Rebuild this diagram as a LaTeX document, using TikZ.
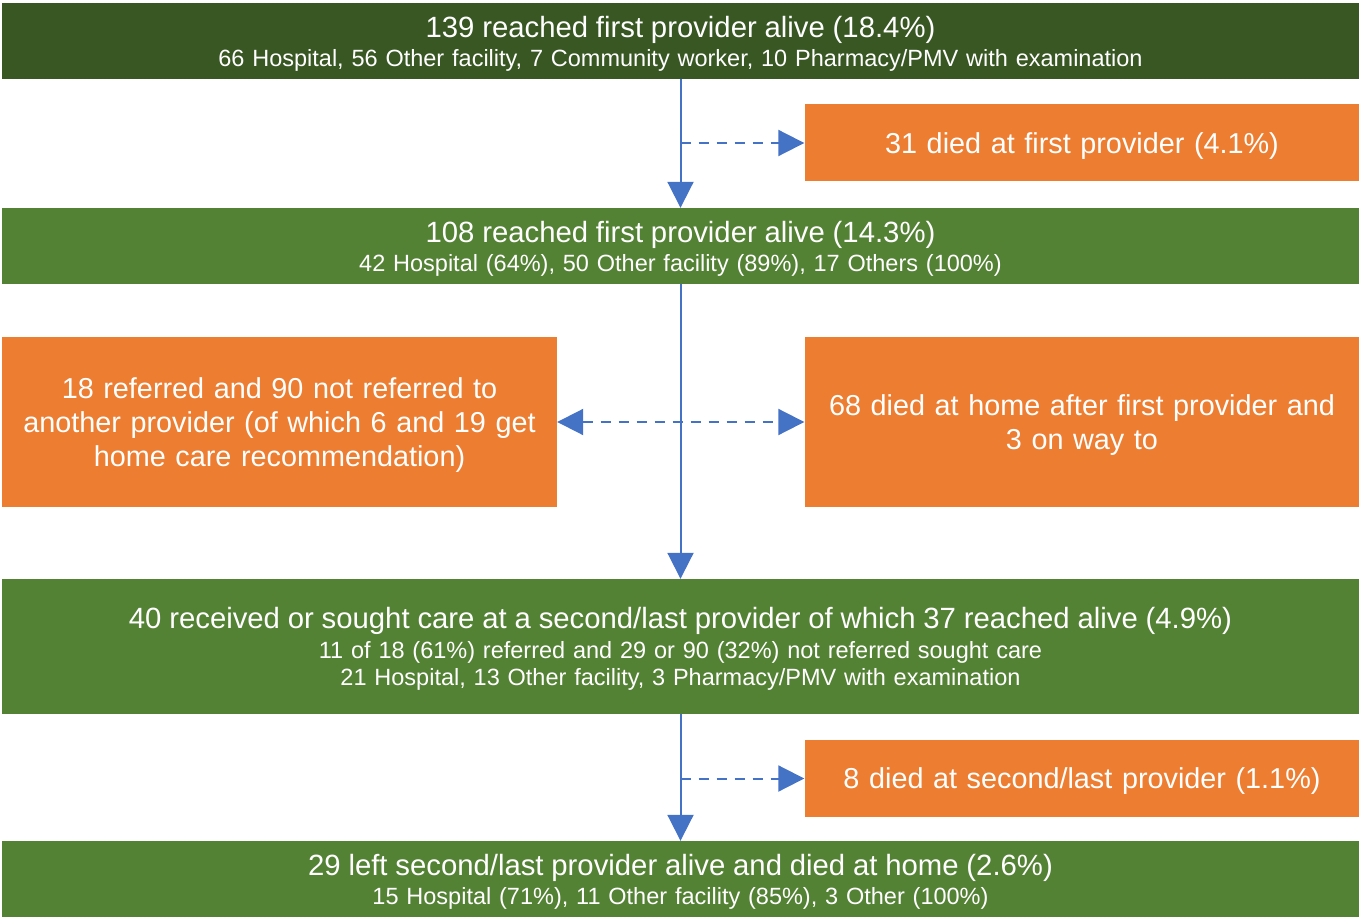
\documentclass[tikz,border=0pt]{standalone}
\usepackage{fontspec}
\setmainfont{Liberation Sans}
\usetikzlibrary{arrows.meta}
\definecolor{dkgreen}{HTML}{385723}
\definecolor{mdgreen}{HTML}{548235}
\definecolor{orng}{HTML}{ED7D31}
\definecolor{arrblue}{HTML}{4472C4}
\tikzset{
  gbox/.style={fill=mdgreen, text=white, inner sep=0pt, minimum width=1357pt,
    text width=1350pt, align=center, font=\fontsize{23.5}{27}\selectfont},
  obox/.style={fill=orng, text=white, inner sep=0pt, minimum width=555pt,
    text width=553pt, align=center, font=\fontsize{28.8}{34}\selectfont},
  flow/.style={draw=arrblue, line width=2pt, -{Triangle[width=26pt,length=26pt]}},
  side/.style={draw=arrblue, line width=2pt, dash pattern=on 10pt off 8pt,
    -{Triangle[width=26pt,length=26pt]}},
}
\newcommand\ttlline[1]{{\fontsize{29.3}{27}\selectfont\rule{0pt}{26.5pt}#1}\\[2.5pt]}
\newcommand\olift{\rule{0pt}{26pt}}
\begin{document}
\begin{tikzpicture}[x=1pt,y=-1pt]
\useasboundingbox (0,0) rectangle (1359,917);
\node[gbox, fill=dkgreen, minimum height=76pt] (b1) at (680.5,41)
  {\ttlline{139 reached first provider alive (18.4\%)}66 Hospital, 56 Other facility, 7 Community worker, 10 Pharmacy/PMV with examination};
\node[obox, minimum height=77pt] (o1) at (1082,143) {\olift 31 died at first provider (4.1\%)};
\node[gbox, minimum height=76pt] (b2) at (680.5,246)
  {\ttlline{108 reached first provider alive (14.3\%)}42 Hospital (64\%), 50 Other facility (89\%), 17 Others (100\%)};
\node[obox, minimum height=170pt] (ol) at (279.5,422)
  {\olift 18 referred and 90 not referred to\\another provider (of which 6 and 19 get\\home care recommendation)};
\node[obox, minimum height=170pt] (or) at (1082,422)
  {\olift 68 died at home after first provider and\\3 on way to};
\node[gbox, minimum height=135pt] (b3) at (680.5,646.5)
  {\ttlline{40 received or sought care at a second/last provider of which 37 reached alive (4.9\%)}11 of 18 (61\%) referred and 29 or 90 (32\%) not referred sought care\\[0.5pt]21 Hospital, 13 Other facility, 3 Pharmacy/PMV with examination};
\node[obox, minimum height=77pt] (o3) at (1082,778.5) {\olift 8 died at second/last provider (1.1\%)};
\node[gbox, minimum height=76pt] (b4) at (680.5,879)
  {\ttlline{29 left second/last provider alive and died at home (2.6\%)}15 Hospital (71\%), 11 Other facility (85\%), 3 Other (100\%)};
\draw[flow] (b1.south) -- (b2.north);
\draw[side] (b1.south |- o1.west) -- (o1.west);
\draw[flow] (b2.south) -- (b3.north);
\draw[side, {Triangle[width=26pt,length=26pt]}-{Triangle[width=26pt,length=26pt]}] (ol.east) -- (or.west);
\draw[flow] (b3.south) -- (b4.north);
\draw[side] (b3.south |- o3.west) -- (o3.west);
\end{tikzpicture}
\end{document}
